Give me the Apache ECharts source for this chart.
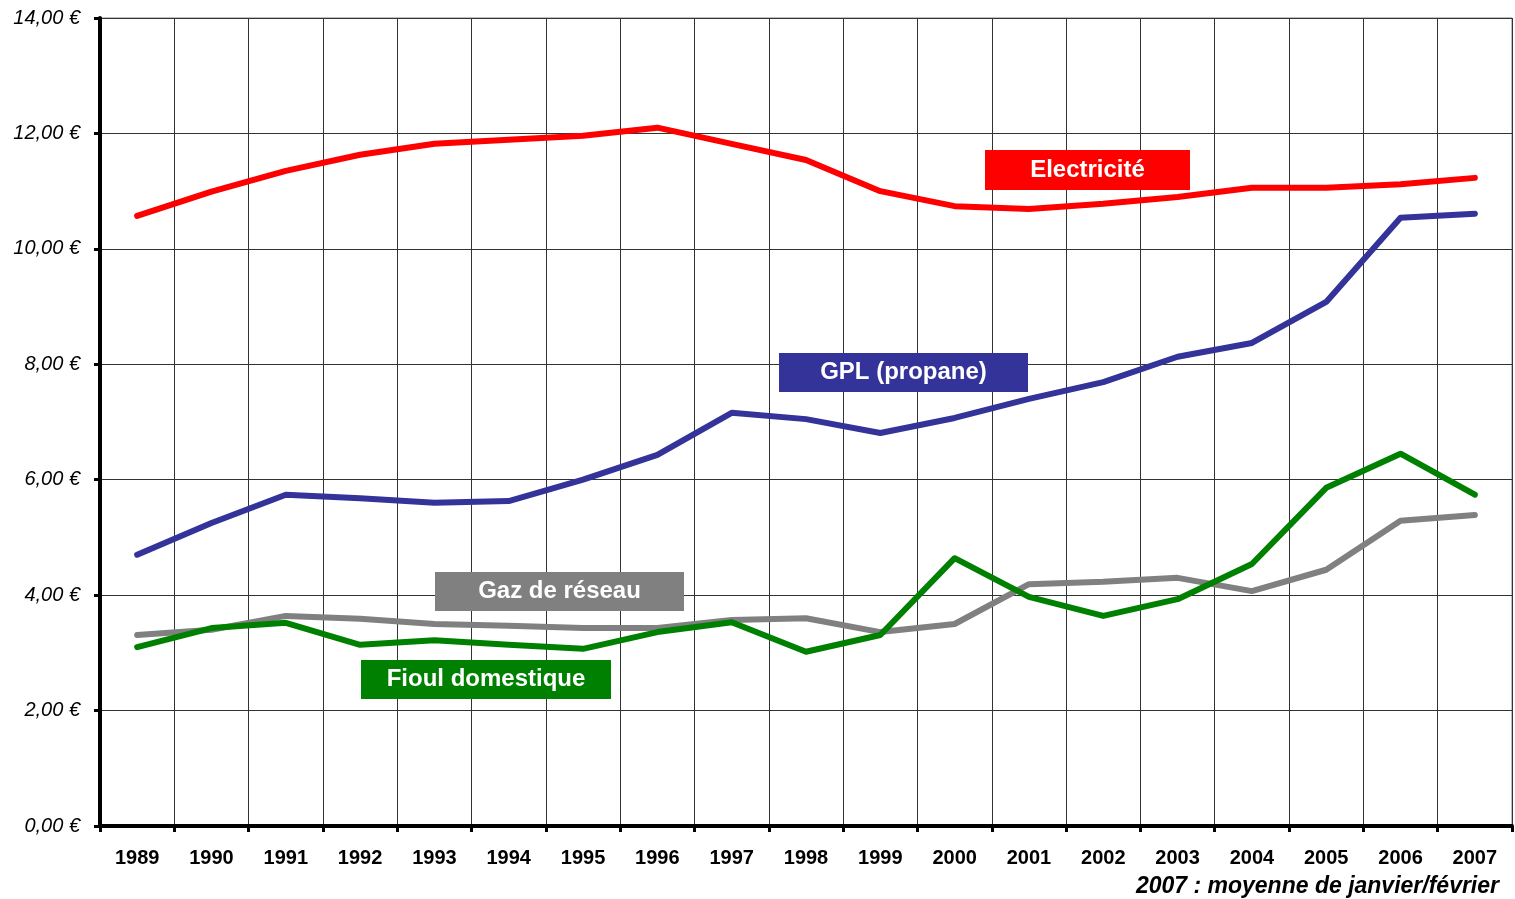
<!DOCTYPE html>
<html>
<head>
<meta charset="utf-8">
<title>Prix des énergies</title>
<script src="https://cdn.jsdelivr.net/npm/echarts@6/dist/echarts.min.js"></script>
<style>
  html, body { margin: 0; padding: 0; background: #fff; }
  #chart { width: 1515px; height: 899px; }
</style>
</head>
<body>
<div id="chart"></div>
<script>
// années
const years = ["1989", "1990", "1991", "1992", "1993", "1994", "1995", "1996", "1997", "1998",
  "1999", "2000", "2001", "2002", "2003", "2004", "2005", "2006", "2007"];
// prix par série (€)
const electricite = [10.57, 10.99, 11.35, 11.63, 11.82, 11.89, 11.96, 12.10, 11.82, 11.54,
  11.00, 10.74, 10.69, 10.78, 10.90, 11.06, 11.06, 11.12, 11.23];
const gpl = [4.70, 5.25, 5.74, 5.68, 5.60, 5.63, 6.00, 6.43, 7.16, 7.05,
  6.81, 7.07, 7.40, 7.69, 8.13, 8.37, 9.08, 10.54, 10.61];
const gaz = [3.31, 3.40, 3.64, 3.59, 3.50, 3.47, 3.43, 3.43, 3.57, 3.60,
  3.36, 3.50, 4.19, 4.23, 4.30, 4.07, 4.44, 5.29, 5.39];
const fioul = [3.10, 3.43, 3.52, 3.14, 3.22, 3.14, 3.07, 3.36, 3.53, 3.02,
  3.31, 4.64, 3.97, 3.64, 3.93, 4.54, 5.86, 6.45, 5.74];

const chart = echarts.init(document.getElementById("chart"));

// petite étiquette colorée posée sur le graphique
function badge(x, y, w, h, color, text) {
  return {
    type: "group",
    left: x,
    top: y,
    z: 100,
    children: [
      { type: "rect", z: 100, shape: { x: 0, y: 0, width: w, height: h }, style: { fill: color } },
      {
        type: "text",
        z: 101,
        x: w / 2,
        y: h / 2,
        style: {
          text: text,
          fill: "#fff",
          font: "bold 24px 'Liberation Sans', Arial, sans-serif",
          align: "center",
          verticalAlign: "middle",
        },
      },
    ],
  };
}

function lineSeries(name, data, color) {
  return {
    name: name,
    type: "line",
    data: data,
    symbol: "none",
    smooth: false,
    lineStyle: { color: color, width: 6, cap: "round", join: "round" },
    itemStyle: { color: color },
  };
}

chart.setOption({
  animation: false,
  backgroundColor: "#fff",
  textStyle: { fontFamily: "'Liberation Sans', Arial, sans-serif" },
  grid: {
    left: 100,
    right: 3,
    top: 18,
    bottom: 73,
    show: true,
    borderColor: "#808080",
    borderWidth: 1,
  },
  xAxis: {
    type: "category",
    data: years,
    boundaryGap: true,
    axisLine: { lineStyle: { color: "#000", width: 4 } },
    axisTick: { show: true, length: 6, lineStyle: { color: "#000", width: 3 } },
    axisLabel: {
      color: "#000",
      fontWeight: "bold",
      fontSize: 20,
      margin: 22,
    },
    splitLine: { show: true, lineStyle: { color: "#333", width: 1 } },
  },
  yAxis: {
    type: "value",
    min: 0,
    max: 14,
    interval: 2,
    axisLine: { show: true, lineStyle: { color: "#000", width: 4 } },
    axisTick: { show: true, length: 6, lineStyle: { color: "#000", width: 3 } },
    axisLabel: {
      color: "#000",
      fontStyle: "italic",
      fontSize: 20,
      margin: 20,
      formatter: (v) => v.toFixed(2).replace(".", ",") + " €",
    },
    splitLine: { show: true, lineStyle: { color: "#333", width: 1 } },
  },
  series: [
    lineSeries("Gaz de réseau", gaz, "#808080"),
    lineSeries("Fioul domestique", fioul, "#008000"),
    lineSeries("GPL (propane)", gpl, "#333399"),
    lineSeries("Electricité", electricite, "#FF0000"),
  ],
  graphic: [
    badge(985, 150, 205, 40, "#FF0000", "Electricité"),
    badge(779, 353, 249, 39, "#333399", "GPL (propane)"),
    badge(435, 572, 249, 39, "#808080", "Gaz de réseau"),
    badge(361, 660, 250, 39, "#008000", "Fioul domestique"),
    {
      type: "text",
      right: 16,
      top: 875,
      style: {
        text: "2007 : moyenne de janvier/février",
        fill: "#000",
        font: "italic bold 23px 'Liberation Sans', Arial, sans-serif",
      },
    },
  ],
});
</script>
</body>
</html>
